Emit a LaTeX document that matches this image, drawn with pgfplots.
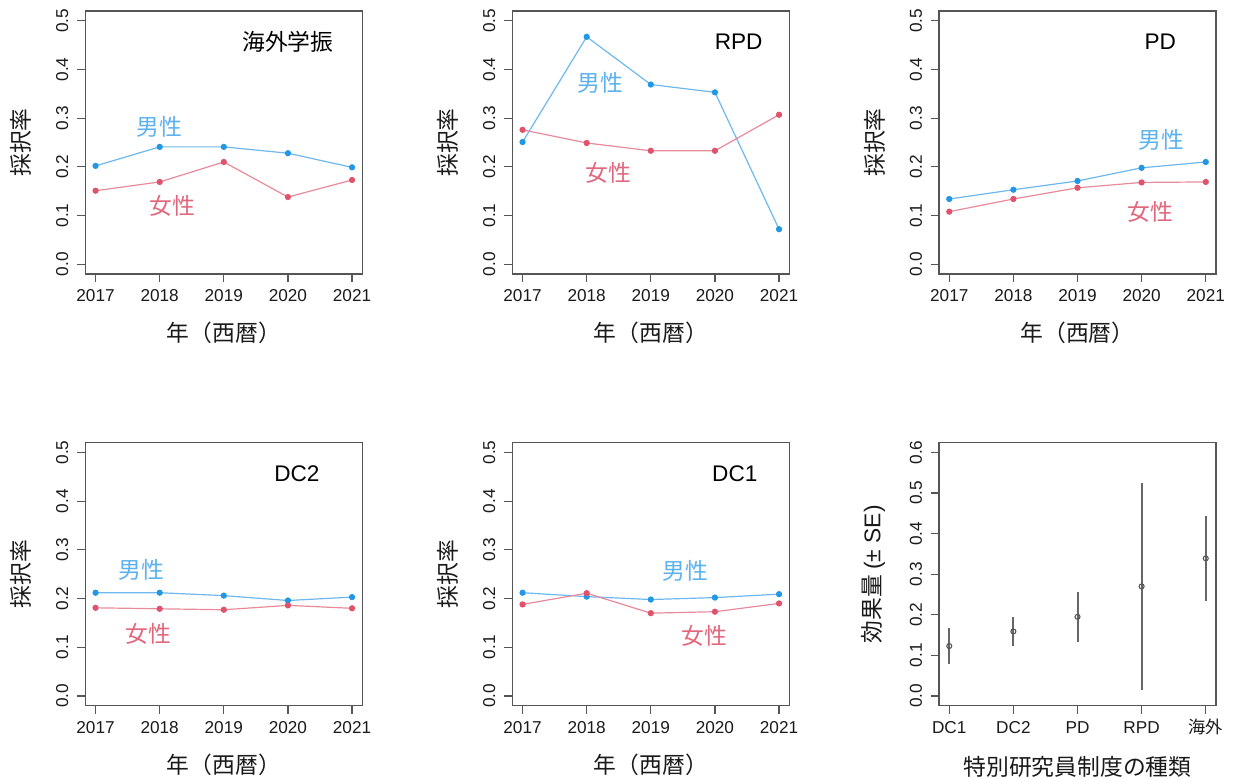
\documentclass[border=0pt]{standalone}
\usepackage{fontspec}
\setmainfont{Liberation Sans}
\newfontfamily\jp{Noto Sans CJK JP}
\usepackage{pgfplots}
\pgfplotsset{compat=1.18}

\definecolor{mblue}{HTML}{2297E6}
\definecolor{mline}{HTML}{6DB8EE}
\definecolor{mtext}{HTML}{5CB1EE}
\definecolor{fred}{HTML}{DF536B}
\definecolor{fline}{HTML}{E98A9B}
\definecolor{ftext}{HTML}{E2667C}
\definecolor{framec}{HTML}{555555}
\definecolor{txt}{HTML}{1A1A1A}

\tikzset{
  mlab/.style={text=mtext, font=\jp\fontsize{11.4}{13}\selectfont},
  flab/.style={text=ftext, font=\jp\fontsize{11.4}{13}\selectfont},
  ttl/.style={text=black, font=\fontsize{11.3}{13}\selectfont},
  jttl/.style={text=black, font=\jp\fontsize{11.4}{13}\selectfont},
}

\pgfplotsset{
  rstyle/.style={
    scale only axis, width=138.5pt, height=131.5pt,
    axis line style={framec, line width=0.6pt},
    tick align=outside, tick pos=left,
    major tick length=4pt,
    every tick/.style={framec, line width=0.6pt},
    ticklabel style={font=\fontsize{8.6}{10}\selectfont, text=txt},
    /pgf/number format/assume math mode=true,
    y tick label style={rotate=90, anchor=south, inner ysep=4.3pt, /pgf/number format/.cd, fixed, fixed zerofill, precision=1},
    x tick label style={text height=6.4pt, text depth=0.5pt},
    xlabel style={at={(axis description cs:0.5,-0.2255)}, anchor=center, font=\jp\fontsize{11.4}{13}\selectfont, text=txt},
    ylabel style={at={(axis description cs:-0.233,0.5)}, anchor=center, font=\jp\fontsize{11.4}{13}\selectfont, text=txt},
  },
  yearpanel/.style={rstyle, xmin=2016.84, xmax=2021.16, ymin=-0.02, ymax=0.52,
    xtick={2017,2018,2019,2020,2021}, ytick={0,0.1,0.2,0.3,0.4,0.5},
    x tick label style={/pgf/number format/.cd, 1000 sep={}},
    xlabel={年（西暦）}, ylabel={採択率}},
  mser/.style={color=mline, line width=0.6pt, mark=*, mark size=1.25pt, mark options={draw=mblue, fill=mblue}},
  fser/.style={color=fline, line width=0.6pt, mark=*, mark size=1.25pt, mark options={draw=fred, fill=fred}},
}

\begin{document}
\begin{tikzpicture}
\useasboundingbox (0,0) rectangle (617.5pt,389pt);

% Panel 1: 海外学振
\begin{axis}[yearpanel, at={(42.65pt,252pt)}, anchor=south west]
\addplot[mser] coordinates {(2017,0.202) (2018,0.241) (2019,0.241) (2020,0.228) (2021,0.199)};
\addplot[fser] coordinates {(2017,0.151) (2018,0.169) (2019,0.210) (2020,0.138) (2021,0.173)};
\node[mlab] at (axis cs:2018.0,0.283) {男性};
\node[flab] at (axis cs:2018.2,0.119) {女性};
\node[jttl] at (axis cs:2020.0,0.457) {海外学振};
\end{axis}

% Panel 2: RPD
\begin{axis}[yearpanel, at={(256.15pt,252pt)}, anchor=south west]
\addplot[mser] coordinates {(2017,0.251) (2018,0.467) (2019,0.369) (2020,0.353) (2021,0.072)};
\addplot[fser] coordinates {(2017,0.276) (2018,0.249) (2019,0.233) (2020,0.233) (2021,0.307)};
\node[mlab] at (axis cs:2018.21,0.372) {男性};
\node[flab] at (axis cs:2018.34,0.188) {女性};
\node[ttl] at (axis cs:2020.37,0.456) {RPD};
\end{axis}

% Panel 3: PD
\begin{axis}[yearpanel, at={(469.5pt,252pt)}, anchor=south west]
\addplot[mser] coordinates {(2017,0.134) (2018,0.153) (2019,0.171) (2020,0.198) (2021,0.210)};
\addplot[fser] coordinates {(2017,0.108) (2018,0.134) (2019,0.157) (2020,0.168) (2021,0.169)};
\node[mlab] at (axis cs:2020.31,0.256) {男性};
\node[flab] at (axis cs:2020.14,0.107) {女性};
\node[ttl] at (axis cs:2020.29,0.456) {PD};
\end{axis}

% Panel 4: DC2
\begin{axis}[yearpanel, at={(42.65pt,36.15pt)}, anchor=south west]
\addplot[mser] coordinates {(2017,0.212) (2018,0.212) (2019,0.206) (2020,0.196) (2021,0.203)};
\addplot[fser] coordinates {(2017,0.181) (2018,0.179) (2019,0.177) (2020,0.186) (2021,0.180)};
\node[mlab] at (axis cs:2017.72,0.259) {男性};
\node[flab] at (axis cs:2017.83,0.128) {女性};
\node[ttl] at (axis cs:2020.14,0.456) {DC2};
\end{axis}

% Panel 5: DC1
\begin{axis}[yearpanel, at={(256.15pt,36.15pt)}, anchor=south west]
\addplot[mser] coordinates {(2017,0.212) (2018,0.204) (2019,0.198) (2020,0.202) (2021,0.209)};
\addplot[fser] coordinates {(2017,0.188) (2018,0.211) (2019,0.170) (2020,0.173) (2021,0.190)};
\node[mlab] at (axis cs:2019.54,0.256) {男性};
\node[flab] at (axis cs:2019.84,0.123) {女性};
\node[ttl] at (axis cs:2020.31,0.456) {DC1};
\end{axis}

% Panel 6: effect sizes
\begin{axis}[rstyle, at={(469.5pt,36.15pt)}, anchor=south west,
  xmin=0.84, xmax=5.16, ymin=-0.024, ymax=0.624,
  xtick={1,2,3,4,5}, xticklabels={DC1,DC2,PD,RPD,{\jp 海外}},
  ytick={0,0.1,0.2,0.3,0.4,0.5,0.6},
  xlabel style={at={(axis description cs:0.5,-0.233)}},
  ylabel style={at={(axis description cs:-0.238,0.5)}},
  xlabel={特別研究員制度の種類}, ylabel={{\jp 効果量} {\fontspec{Liberation Sans}(± SE)}}]
\addplot[only marks, mark=o, mark size=1.25pt, mark options={draw=framec, fill=white, line width=0.55pt},
  error bars/.cd, y dir=both, y explicit, error mark=none,
  error bar style={color=black!60, line width=1pt}]
  coordinates {
    (1,0.123) +- (0,0.045)
    (2,0.159) +- (0,0.036)
    (3,0.195) +- (0,0.062)
    (4,0.270) +- (0,0.255)
    (5,0.339) +- (0,0.105)
  };
\end{axis}
\end{tikzpicture}
\end{document}
